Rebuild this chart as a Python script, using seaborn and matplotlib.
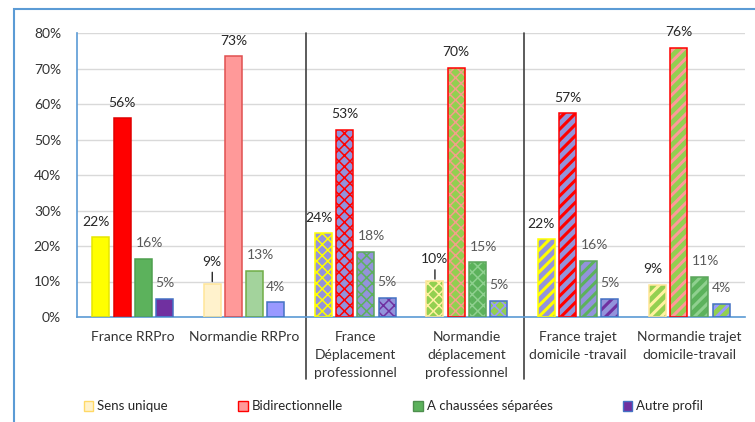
import numpy as np
import pandas as pd
import seaborn as sns
import matplotlib.pyplot as plt
from matplotlib.patches import Patch, Rectangle
from matplotlib.lines import Line2D

# Données (en %)
categories = ["France RRPro", "Normandie RRPro",
              "France\nDéplacement\nprofessionnel",
              "Normandie\ndéplacement\nprofessionnel",
              "France trajet\ndomicile -travail",
              "Normandie trajet\ndomicile-travail"]
profils = ["Sens unique", "Bidirectionnelle", "A chaussées séparées", "Autre profil"]
sens_unique = [22.4, 9.4, 23.6, 10.1, 21.9, 9.1]
bidirectionnelle = [56.0, 73.4, 52.8, 70.2, 57.4, 75.8]
chaussees_separees = [16.4, 13.0, 18.4, 15.4, 15.8, 11.3]
autre_profil = [5.2, 4.2, 5.4, 4.6, 5.2, 3.8]
y_ticks = [0, 10, 20, 30, 40, 50, 60, 70, 80]

df = pd.DataFrame({
    "categorie": np.repeat(categories, 4),
    "profil": profils * 6,
    "valeur": np.ravel(np.column_stack([sens_unique, bidirectionnelle,
                                        chaussees_separees, autre_profil])),
})

# Styles par groupe : (remplissage, hachure, couleur hachure, bordure)
LAV = "#9393DB"
VERT = "#92D050"
styles = [
    (["#FFFF00", "#FF0000", "#5CB25C", "#7030A0"], "", None,
     ["#E6E600", "#E00000", "#4E9F4E", "#4472C4"]),
    (["#FFF2CC", "#FF9999", "#A3D39C", "#9999FF"], "", None,
     ["#FFE699", "#E05050", "#70AD47", "#4472C4"]),
    ([LAV] * 4, "xxx", ["#FFFF00", "#FF0000", "#5CB25C", "#7030A0"],
     ["#FFFF00", "#FF0000", "#5CA55C", "#4472C4"]),
    ([VERT, VERT, "#5CB25C", VERT], "xxx", ["#FFF2A0", "#F4A08A", "#8FD08F", "#9999FF"],
     ["#FFE699", "#FF0000", "#5CA55C", "#4472C4"]),
    ([LAV] * 4, "///", ["#FFFF00", "#FF0000", "#5CB25C", "#7030A0"],
     ["#FFFF00", "#FF0000", "#5CA55C", "#4472C4"]),
    ([VERT, VERT, "#5CB25C", VERT], "///", ["#FFF2A0", "#FF9999", "#8FD08F", "#9999FF"],
     ["#FFE699", "#FF0000", "#5CA55C", "#4472C4"]),
]

sns.set_style("white")
plt.rcParams["font.family"] = ["Lato", "DejaVu Sans"]
plt.rcParams["hatch.linewidth"] = 1.3

fig = plt.figure(figsize=(7.55, 4.22), dpi=100)
ax = fig.add_axes([77 / 755, 1 - 317 / 422, 668 / 755, 284 / 422])

sns.barplot(data=df, x="categorie", y="valeur", hue="profil", hue_order=profils,
            order=categories, width=0.76, gap=0.2, ax=ax, legend=False,
            errorbar=None)

px = 0.72  # points par pixel
lbl_dx = [-5, 0, 6, 0]
lbl_col = ["#262626", "#262626", "#595959", "#595959"]
leader = {(1, 0), (3, 0)}

for s, cont in enumerate(ax.containers):
    for c, bar in enumerate(cont):
        fills, hatch, hcols, edges = styles[c]
        bar.set_facecolor(fills[s])
        bar.set_linewidth(0)
        if hatch:
            bar.set_hatch(hatch)
            bar.set_edgecolor(hcols[s])
            if hasattr(bar, "set_hatch_linewidth"):
                bar.set_hatch_linewidth(2.2 if "/" in hatch else 1.1)
        ax.add_patch(Rectangle(bar.get_xy(), bar.get_width(), bar.get_height(),
                               fill=False, edgecolor=edges[s], lw=1.1, zorder=3))
        xc = bar.get_x() + bar.get_width() / 2
        h = bar.get_height()
        txt = f"{round(h):.0f}%"
        if (c, s) in leader:
            ax.annotate(txt, xy=(xc, h), xytext=(0, 22 * px), textcoords="offset points",
                        ha="center", va="center", fontsize=10, color=lbl_col[s],
                        arrowprops=dict(arrowstyle="-", color="#262626", lw=1,
                                        shrinkA=1, shrinkB=1.5))
        else:
            ax.annotate(txt, xy=(xc, h), xytext=(lbl_dx[s] * px, 15.5 * px),
                        textcoords="offset points", ha="center", va="center",
                        fontsize=10, color=lbl_col[s])

ax.set_ylim(0, 80)
ax.set_xlim(-0.5, 5.5)
ax.set_yticks(y_ticks)
ax.set_yticklabels([f"{t}%" for t in y_ticks])
ax.set_xlabel("")
ax.set_ylabel("")
ax.yaxis.grid(True, color="#D9D9D9", lw=1)
ax.set_axisbelow(True)
ax.tick_params(axis="both", length=0, colors="#333333", labelsize=10)
ax.tick_params(axis="y", pad=11.5)
ax.tick_params(axis="x", pad=10)
for lab in ax.get_xticklabels():
    lab.set_linespacing(1.6)
for side in ["top", "right"]:
    ax.spines[side].set_visible(False)
for side in ["left", "bottom"]:
    ax.spines[side].set_color("#5B9BD5")
    ax.spines[side].set_linewidth(1.2)

# séparateurs verticaux
for xs in [1.557, 3.515]:
    ax.add_line(Line2D([xs, xs], [1.0, -0.218], transform=ax.get_xaxis_transform(),
                       color="#404040", lw=1.2, clip_on=False))

# cadre extérieur
fig.add_artist(Rectangle((14 / 755, -0.1), 1.2, 1 - 9.3 / 422 + 0.1,
                         transform=fig.transFigure, fill=False,
                         edgecolor="#5B9BD5", lw=1.5))

# légende
leg_faces = ["#FFF2CC", "#FF9999", "#5CB25C", "#7030A0"]
leg_edges = ["#FFD966", "#FF0000", "#4E8F4E", "#4472C4"]
handles = [Patch(facecolor=f, edgecolor=e, lw=1) for f, e in zip(leg_faces, leg_edges)]
fig.legend(handles, profils, loc="center left", bbox_to_anchor=(84 / 755, 1 - 406.5 / 422),
           ncol=4, frameon=False, handlelength=0.7, handleheight=0.8, handletextpad=0.3,
           columnspacing=5.35, fontsize=9.5, borderaxespad=0, borderpad=0)

fig.savefig("out.png", dpi=100)
